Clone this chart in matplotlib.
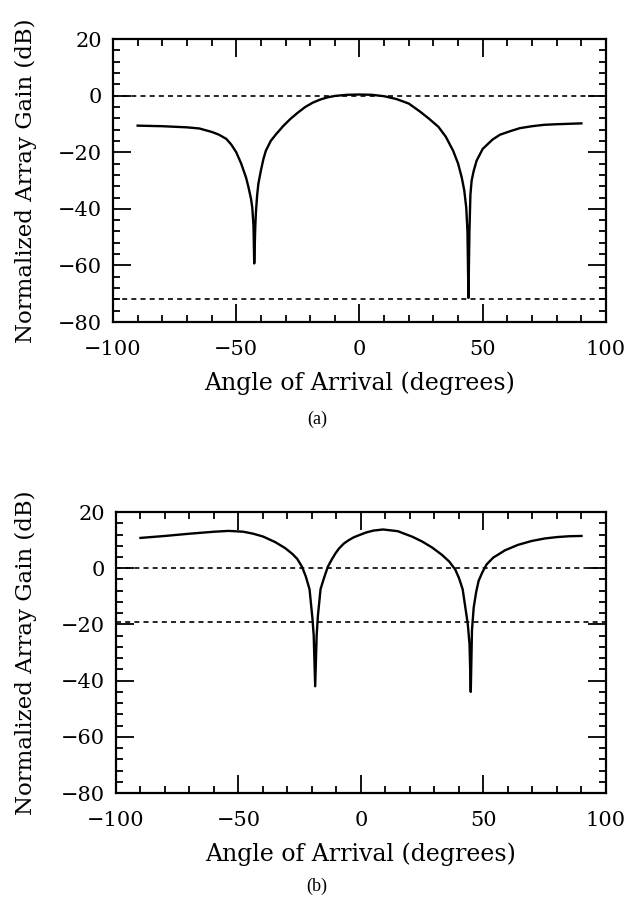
import matplotlib.pyplot as plt
from matplotlib.ticker import MultipleLocator

plt.rcParams['font.family'] = ['DejaVu Serif']

# panel (a): angle of arrival (deg) vs normalized gain (dB)
angle_a = [-90, -80, -70, -65, -60, -57, -54, -52, -50, -48, -46, -45, -44,
           -43.5, -43, -42.7, -42.3, -42, -41.5, -41, -40, -39, -38, -36, -34,
           -31, -28, -25, -22, -19, -16, -13, -10, -5, 0, 5, 10, 15, 20, 24.5,
           28, 32, 35, 38, 40, 41.5, 42.5, 43.3, 43.8, 44.2, 44.6, 45, 45.5,
           46.3, 47.5, 50, 54, 57, 61, 65, 70, 75, 80, 90]
gain_a = [-10.6, -10.8, -11.2, -11.6, -12.8, -13.8, -15.3, -17.3, -20, -24,
          -29, -32.5, -36.5, -39.5, -46, -59.3, -47, -41, -35, -31, -26.5,
          -22.5, -19.5, -16, -13.8, -10.8, -8.2, -6.0, -4.0, -2.5, -1.4, -0.6,
          -0.1, 0.3, 0.4, 0.3, -0.2, -1.2, -2.8, -5.6, -8, -11, -14.5, -19.5,
          -24, -29, -33.5, -39.5, -48, -71.5, -48, -35, -30, -26.7, -23, -18.8,
          -15.5, -13.8, -12.6, -11.5, -10.8, -10.3, -10.1, -9.8]
thresh_a = [0, -72]

# panel (b)
angle_b = [-90, -80, -70, -60, -54, -48, -44, -40, -35, -31, -28, -26, -24,
           -22.5, -21, -19.8, -19.3, -18.7, -18.1, -17.6, -16.5, -15, -13.5,
           -12, -10.5, -9, -7, -5, -3, -1, 2, 5, 9, 15, 21, 25, 29, 33, 36,
           38.5, 40, 41.5, 42.6, 43.6, 44.3, 44.8, 45.3, 46, 47, 48, 49.5,
           51.3, 54, 58.8, 64, 69.6, 75, 80, 85, 90]
gain_b = [10.8, 11.5, 12.3, 13.0, 13.3, 13.0, 12.3, 11.3, 9.3, 7.2, 5.1, 3.3,
          0.4, -3, -7.5, -18, -24, -42, -24, -17, -7.4, -3.2, 0.6, 3.0, 5.2,
          7.0, 8.8, 10.0, 11.0, 11.7, 12.7, 13.4, 13.8, 13.2, 11.2, 9.5, 7.4,
          4.8, 2.4, -0.5, -3.5, -7.5, -14, -20, -27, -44, -22, -14, -8.5,
          -4.5, -1.5, 1.4, 3.8, 6.4, 8.3, 9.7, 10.6, 11.1, 11.4, 11.5]
thresh_b = [0, -19]

fig = plt.figure(figsize=(6.27, 9.02), dpi=100)
ax1 = fig.add_axes([0.1802, 0.643, 0.7863, 0.3137])
ax2 = fig.add_axes([0.185, 0.1208, 0.7815, 0.3115])

panels = [(ax1, angle_a, gain_a, thresh_a, -0.155),
          (ax2, angle_b, gain_b, thresh_b, -0.161)]

for ax, ang, g, th, ylab_x in panels:
    for t in th:
        ax.axhline(t, color='black', lw=1.2, ls=(0, (3, 2.5)))
    ax.plot(ang, g, color='black', lw=1.7)
    ax.set_xlim(-100, 100)
    ax.set_ylim(-80, 20)
    ax.xaxis.set_major_locator(MultipleLocator(50))
    ax.xaxis.set_minor_locator(MultipleLocator(10))
    ax.yaxis.set_major_locator(MultipleLocator(20))
    ax.yaxis.set_minor_locator(MultipleLocator(4))
    ax.tick_params(which='both', direction='in', top=True, right=True,
                   labelsize=15, width=1.3)
    ax.tick_params(which='major', length=13)
    ax.tick_params(axis='x', which='major', pad=13)
    ax.tick_params(axis='y', which='major', pad=8)
    ax.tick_params(which='minor', length=5)
    for sp in ax.spines.values():
        sp.set_linewidth(1.6)
    ax.set_xlabel("Angle of Arrival (degrees)", fontsize=17)
    ax.set_ylabel("Normalized Array Gain (dB)", fontsize=16.5)
    ax.yaxis.set_label_coords(ylab_x, 0.5)
    ax.xaxis.set_label_coords(0.5, -0.175)

fig.text(317 / 627, 1 - 419 / 902, "(a)", ha='center', va='center',
         fontsize=13, family='Liberation Serif')
fig.text(317 / 627, 0.017, "(b)", ha='center', va='center',
         fontsize=13, family='Liberation Serif')

plt.savefig("out.png", dpi=100)
